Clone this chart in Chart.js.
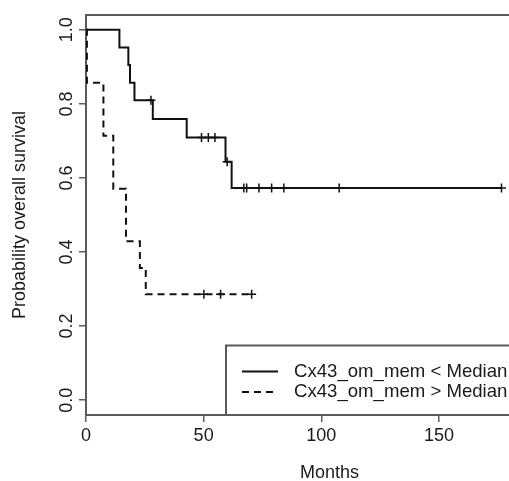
<!DOCTYPE html>
<html><head><meta charset="utf-8">
<script src="https://cdn.jsdelivr.net/npm/chart.js@4.4.1/dist/chart.umd.min.js"></script>
<style>
html,body{margin:0;padding:0;background:#fff;overflow:hidden;width:509px;height:481px}
#wrap{position:absolute;left:0;top:0;width:580px;height:481px}
</style>
</head><body><div id="wrap"><canvas id="c" width="580" height="481"></canvas></div>
<script>
const seriesLabels = ['Cx43_om_mem < Median', 'Cx43_om_mem > Median'];
const lowTimes = [0, 14.2, 18.0, 18.7, 20.6, 28.4, 42.8, 59.3, 61.9, 176.6];
const lowSurv = [1.0, 0.952, 0.905, 0.857, 0.810, 0.759, 0.709, 0.644, 0.573, 0.573];
const lowCensorTimes = [27.6, 49.1, 52.0, 54.8, 60.0, 67.1, 68.3, 73.5, 78.9, 84.1, 107.6, 176.6];
const lowCensorSurv = [0.810, 0.709, 0.709, 0.709, 0.644, 0.573, 0.573, 0.573, 0.573, 0.573, 0.573, 0.573];
const highTimes = [0, 0.4, 7.4, 11.6, 17.0, 22.9, 25.4, 70.4];
const highSurv = [1.0, 0.857, 0.714, 0.571, 0.429, 0.357, 0.286, 0.286];
const highCensorTimes = [50.1, 57.2, 70.4];
const highCensorSurv = [0.286, 0.286, 0.286];
const xTicks = [0, 50, 100, 150];
const xTickLabels = ['0', '50', '100', '150'];
const yTicks = [0, 0.2, 0.4, 0.6, 0.8, 1.0];
const yTickLabels = ['0.0', '0.2', '0.4', '0.6', '0.8', '1.0'];
const xTitle = 'Months';
const yTitle = 'Probability overall survival';

const FONT = "'Liberation Sans', Arial, Helvetica, sans-serif";
const TEXT = '#1a1a1a';
const FRAME = '#5a5a5a';
const INK = '#111111';

const toPts = (xs, ys) => xs.map((x, i) => ({x: x, y: ys[i]}));

const framePlugin = {
  id: 'frame',
  beforeDatasetsDraw(chart) {
    const {ctx, chartArea: a} = chart;
    ctx.save();
    ctx.strokeStyle = FRAME;
    ctx.lineWidth = 2;
    ctx.strokeRect(a.left, a.top, a.right - a.left, a.bottom - a.top);
    ctx.restore();
  },
  afterDraw(chart) {
    const {ctx, chartArea: a} = chart;
    const ys = chart.scales.y;
    ctx.save();
    ctx.fillStyle = TEXT;
    ctx.font = '18px ' + FONT;
    ctx.textAlign = 'center';
    ctx.textBaseline = 'middle';
    yTicks.forEach((v, i) => {
      const py = ys.getPixelForValue(v);
      ctx.save();
      ctx.translate(67, py);
      ctx.rotate(-Math.PI / 2);
      ctx.fillText(yTickLabels[i], 0, 0);
      ctx.restore();
    });
    // legend
    const lx = 226, ly = 345.5;
    ctx.fillStyle = '#fff';
    ctx.fillRect(lx, ly, a.right - lx, a.bottom - ly);
    ctx.strokeStyle = FRAME;
    ctx.lineWidth = 2;
    ctx.strokeRect(lx, ly, a.right - lx, a.bottom - ly);
    ctx.font = '18.6px ' + FONT;
    const rows = [371.5, 392];
    [0, 2].forEach((di, r) => {
      const ds = chart.data.datasets[di];
      ctx.save();
      ctx.strokeStyle = INK;
      ctx.lineWidth = 2;
      ctx.setLineDash(ds.borderDash || []);
      ctx.beginPath();
      ctx.moveTo(242, rows[r]);
      ctx.lineTo(278, rows[r]);
      ctx.stroke();
      ctx.restore();
      ctx.fillStyle = TEXT;
      ctx.textAlign = 'left';
      ctx.textBaseline = 'middle';
      ctx.fillText(ds.label, 294, rows[r]);
    });
    ctx.restore();
  }
};

new Chart(document.getElementById('c'), {
  type: 'line',
  data: {
    datasets: [
      {label: seriesLabels[0], data: toPts(lowTimes, lowSurv), stepped: true, borderColor: INK, borderWidth: 2, pointRadius: 0, fill: false},
      {label: seriesLabels[0] + ' censored', type: 'scatter', data: toPts(lowCensorTimes, lowCensorSurv), showLine: false, pointStyle: 'cross', pointRadius: 4.5, borderColor: INK, borderWidth: 1.5},
      {label: seriesLabels[1], data: toPts(highTimes, highSurv), stepped: true, borderColor: INK, borderWidth: 2, borderDash: [7, 5], pointRadius: 0, fill: false},
      {label: seriesLabels[1] + ' censored', type: 'scatter', data: toPts(highCensorTimes, highCensorSurv), showLine: false, pointStyle: 'cross', pointRadius: 4.5, borderColor: INK, borderWidth: 1.5}
    ]
  },
  options: {
    responsive: false,
    animation: false,
    devicePixelRatio: 1,
    layout: {padding: {top: 15, right: 7, left: 0, bottom: 0}},
    plugins: {legend: {display: false}, tooltip: {enabled: false}},
    scales: {
      x: {
        type: 'linear', min: 0, max: 207,
        afterBuildTicks: s => { s.ticks = xTicks.map(v => ({value: v})); },
        afterFit: s => { s.height = 66; },
        grid: {drawOnChartArea: false, drawTicks: true, tickLength: 7, color: FRAME, lineWidth: 1.5},
        border: {display: false},
        ticks: {padding: 3, color: TEXT, font: {family: FONT, size: 18}, maxRotation: 0, callback: (v, i) => xTickLabels[i]},
        title: {display: true, text: xTitle, color: TEXT, font: {family: FONT, size: 18, lineHeight: 1}, padding: {top: 0, bottom: -1}}
      },
      y: {
        type: 'linear', min: -0.04, max: 1.04,
        afterBuildTicks: s => { s.ticks = yTicks.map(v => ({value: v})); },
        afterFit: s => { s.width = 86; },
        grid: {drawOnChartArea: false, drawTicks: true, tickLength: 7, color: FRAME, lineWidth: 1.5},
        border: {display: false},
        ticks: {display: false},
        title: {display: true, text: yTitle, color: TEXT, font: {family: FONT, size: 18, lineHeight: 1}, padding: {top: 11.5, bottom: 0}}
      }
    }
  },
  plugins: [framePlugin]
});
</script>
</body></html>
